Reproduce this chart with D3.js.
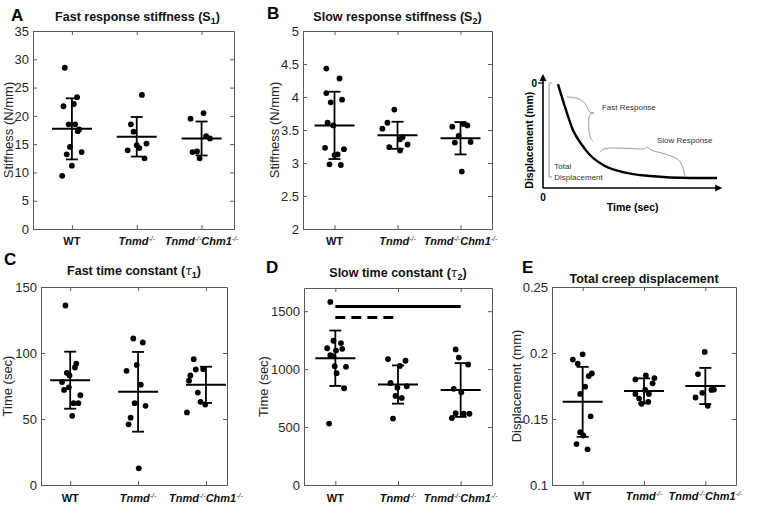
<!DOCTYPE html>
<html><head><meta charset="utf-8">
<script src="https://cdn.jsdelivr.net/npm/d3@7"></script>
<style>body{margin:0;background:#fff;} svg{display:block;}</style>
</head><body><svg id="c" width="759" height="507"></svg>
<script>
// ---------------- data ----------------
const categories = ["WT", "Tnmd", "TnmdChm1"];

// A: fast response stiffness S1 (N/mm)
const s1Values = [
  [28.5, 23.3, 21.7, 22.1, 18.5, 18.5, 17.6, 17.3, 14.5, 13.6, 13.2, 11.2, 9.4],
  [23.7, 18.5, 17.2, 15.1, 14.8, 14.3, 13.9, 12.5],
  [19.5, 20.5, 16.4, 16.0, 13.6, 13.7, 12.5]
];
const s1Jitter = [
  [-0.11, 0.08, -0.13, 0.03, -0.05, 0.05, 0.11, 0.09, -0.03, 0.15, -0.08, 0.00, -0.15],
  [0.08, -0.09, -0.05, 0.15, 0.00, 0.04, -0.14, 0.12],
  [-0.17, 0.03, 0.07, 0.13, -0.14, -0.07, -0.03]
];
const s1Mean = [17.7, 16.3, 16.0];
const s1SD = [5.4, 3.5, 3.0];
const s1Ticks = [0, 5, 10, 15, 20, 25, 30, 35];
const s1TickLabels = ["0", "5", "10", "15", "20", "25", "30", "35"];

// B: slow response stiffness S2 (N/mm)
const s2Values = [
  [4.43, 4.28, 4.06, 3.96, 3.92, 3.61, 3.57, 3.23, 3.21, 3.12, 3.13, 2.98, 2.97],
  [3.81, 3.61, 3.52, 3.39, 3.36, 3.28, 3.24, 3.19],
  [3.55, 3.59, 3.57, 3.41, 3.31, 3.32, 2.87]
];
const s2Jitter = [
  [-0.13, 0.08, -0.13, 0.12, -0.06, -0.11, -0.02, -0.15, 0.15, 0.00, 0.05, -0.08, 0.10],
  [-0.05, -0.16, -0.24, 0.08, 0.04, 0.16, -0.13, 0.04],
  [-0.13, 0.05, 0.11, -0.03, -0.09, 0.16, 0.02]
];
const s2Mean = [3.57, 3.42, 3.375];
const s2SD = [0.51, 0.205, 0.245];
const s2Ticks = [2, 2.5, 3, 3.5, 4, 4.5, 5];
const s2TickLabels = ["2", "2.5", "3", "3.5", "4", "4.5", "5"];

// C: fast time constant tau1 (sec)
const t1Values = [
  [136, 92, 89, 85, 83, 78, 74, 72, 68, 62, 62, 52.4],
  [111, 108, 91, 86.5, 76, 62, 60, 51, 46, 12.6],
  [95.3, 87.5, 87.7, 83, 79, 70, 63, 61, 55]
];
const t1Jitter = [
  [-0.07, 0.09, 0.07, -0.05, -0.01, -0.12, -0.02, -0.09, 0.15, 0.05, 0.12, 0.03],
  [-0.07, 0.07, -0.02, -0.17, 0.04, -0.05, 0.11, -0.11, -0.14, 0.01],
  [-0.18, -0.15, -0.04, -0.23, -0.25, -0.12, -0.08, -0.01, -0.28]
];
const t1Mean = [79.4, 70.6, 75.9];
const t1SD = [21.6, 30.2, 13.7];
const t1Ticks = [0, 50, 100, 150];
const t1TickLabels = ["0", "50", "100", "150"];

// D: slow time constant tau2 (sec)
const t2Values = [
  [1580, 1245, 1225, 1180, 1175, 1160, 1120, 1110, 1025, 1020, 965, 835, 530],
  [1087, 1072, 1027, 880, 840, 852, 769, 751, 573],
  [1170, 1100, 1040, 830, 800, 620, 615, 615, 578]
];
const t2Jitter = [
  [-0.08, -0.03, 0.09, -0.13, 0.11, 0.01, -0.08, -0.03, -0.01, 0.17, 0.02, 0.14, -0.10],
  [-0.16, 0.12, 0.03, -0.12, -0.01, 0.14, -0.04, 0.06, -0.08],
  [-0.08, -0.03, 0.12, -0.11, 0.01, -0.08, 0.05, 0.14, -0.14]
];
const t2Mean = [1094, 867, 820];
const t2SD = [239, 165, 232];
const t2Ticks = [0, 500, 1000, 1500];
const t2TickLabels = ["0", "500", "1000", "1500"];
const sigFrom = [1, 1];
const sigTo = [3, 2];
const sigLevel = [1540, 1445];
const sigDashed = [false, true];

// E: total creep displacement (mm)
const dispValues = [
  [0.199, 0.195, 0.192, 0.1845, 0.1825, 0.1745, 0.169, 0.152, 0.140, 0.1375, 0.131, 0.127],
  [0.183, 0.180, 0.181, 0.177, 0.172, 0.169, 0.1655, 0.169, 0.1615, 0.163],
  [0.2008, 0.184, 0.172, 0.1723, 0.1698, 0.1663, 0.160]
];
const dispJitter = [
  [0.00, -0.16, -0.08, 0.15, 0.10, 0.04, -0.04, 0.13, -0.04, 0.01, -0.10, 0.08],
  [0.03, -0.14, 0.17, 0.14, 0.02, -0.14, -0.08, 0.08, -0.04, 0.07],
  [-0.01, -0.12, 0.10, 0.14, -0.05, -0.16, 0.04]
];
const dispMean = [0.163, 0.1713, 0.175];
const dispSD = [0.0265, 0.0095, 0.0137];
const dispTicks = [0.1, 0.15, 0.2, 0.25];
const dispTickLabels = ["0.1", "0.15", "0.2", "0.25"];

// Schematic creep curve (time 0..1, displacement 0..1 of axis)
const schemTime = [0.086, 0.132, 0.172, 0.224, 0.270, 0.356, 0.460, 0.615, 0.845, 1.0];
const schemDisp = [0.010, 0.257, 0.448, 0.590, 0.686, 0.790, 0.848, 0.886, 0.905, 0.905];

// ---------------- drawing ----------------
const FONT = '"Liberation Sans", Arial, Helvetica, sans-serif';
const AX = "#5a5a5a";
const TXT = "#262626";
const svg = d3.select("#c").style("font-family", FONT);
svg.append("rect").attr("width", 759).attr("height", 507).attr("fill", "#fff");

function catLabel(g, cat, x, y) {
  const t = g.append("text").attr("x", x).attr("y", y).attr("text-anchor", "middle")
    .attr("font-size", 11).attr("font-weight", "bold").attr("fill", "#111");
  if (cat === "WT") { t.text("WT"); return; }
  t.append("tspan").attr("font-style", "italic").text("Tnmd");
  t.append("tspan").attr("font-size", 7).attr("font-style", "italic").attr("font-weight", "normal").attr("dy", -4).text("-/-");
  if (cat === "TnmdChm1") {
    t.append("tspan").attr("font-style", "italic").attr("dy", 4).text("Chm1");
    t.append("tspan").attr("font-size", 7).attr("font-style", "italic").attr("font-weight", "normal").attr("dy", -4).text("-/-");
  }
}

function panel(cfg) {
  const g = svg.append("g");
  const x = d3.scaleLinear().domain(cfg.xDomain).range([cfg.left, cfg.right]);
  const y = d3.scaleLinear().domain(cfg.yDomain).range([cfg.bottom, cfg.top]);
  const fmt = d => cfg.tickLabels[cfg.ticks.indexOf(d)];
  const cats = categories.map((c, i) => i + 1);

  const axL = g.append("g").attr("transform", `translate(${cfg.left},0)`)
    .call(d3.axisLeft(y).tickValues(cfg.ticks).tickFormat(fmt).tickSizeInner(-4).tickSizeOuter(0).tickPadding(4));
  const axR = g.append("g").attr("transform", `translate(${cfg.right},0)`)
    .call(d3.axisRight(y).tickValues(cfg.ticks).tickFormat("").tickSizeInner(-4).tickSizeOuter(0));
  const axB = g.append("g").attr("transform", `translate(0,${cfg.bottom})`)
    .call(d3.axisBottom(x).tickValues(cats).tickFormat("").tickSizeInner(-4).tickSizeOuter(0));
  const axT = g.append("g").attr("transform", `translate(0,${cfg.top})`)
    .call(d3.axisTop(x).tickValues(cats).tickFormat("").tickSizeInner(-4).tickSizeOuter(0));
  [axL, axR, axB, axT].forEach(a => {
    a.attr("font-family", FONT);
    a.selectAll(".domain").attr("stroke", AX).attr("stroke-width", 1);
    a.selectAll(".tick line").attr("stroke", AX).attr("stroke-width", 1);
  });
  axL.selectAll(".tick text").attr("font-size", 13).attr("fill", TXT);

  // data points
  cfg.values.forEach((vals, i) => {
    g.append("g").selectAll("circle").data(vals).join("circle")
      .attr("cx", (v, j) => x(i + 1 + cfg.jitter[i][j]))
      .attr("cy", v => y(v))
      .attr("r", 2.9).attr("fill", "#000");
  });
  // mean and SD bars
  cfg.mean.forEach((m, i) => {
    const cx = x(i + 1), sd = cfg.sd[i];
    const lg = g.append("g").attr("stroke", "#000").attr("stroke-width", 1.8).attr("fill", "none");
    lg.append("line").attr("x1", cx - 20).attr("x2", cx + 20).attr("y1", y(m)).attr("y2", y(m)).attr("stroke-width", 2);
    lg.append("line").attr("x1", cx).attr("x2", cx).attr("y1", y(m - sd)).attr("y2", y(m + sd));
    lg.append("line").attr("x1", cx - 6).attr("x2", cx + 6).attr("y1", y(m + sd)).attr("y2", y(m + sd));
    lg.append("line").attr("x1", cx - 6).attr("x2", cx + 6).attr("y1", y(m - sd)).attr("y2", y(m - sd));
  });
  if (cfg.sig) {
    cfg.sig.from.forEach((f, k) => {
      g.append("line").attr("x1", x(f)).attr("x2", x(cfg.sig.to[k]))
        .attr("y1", y(cfg.sig.level[k])).attr("y2", y(cfg.sig.level[k]))
        .attr("stroke", "#000").attr("stroke-width", 3)
        .attr("stroke-dasharray", cfg.sig.dashed[k] ? "10,6" : null);
    });
  }
  // category labels
  categories.forEach((c, i) => catLabel(g, c, x(i + 1), cfg.bottom + cfg.catDy));
  // y label
  g.append("text").attr("transform", `translate(${cfg.ylabX},${(cfg.top + cfg.bottom) / 2}) rotate(-90)`)
    .attr("text-anchor", "middle").attr("font-size", 13).attr("fill", TXT).text(cfg.ylabel);
  // panel letter
  g.append("text").attr("x", cfg.letterX).attr("y", cfg.letterY).attr("font-size", 17)
    .attr("font-weight", "bold").attr("fill", "#000").text(cfg.letter);
  // title
  const t = g.append("text").attr("x", (cfg.left + cfg.right) / 2 + (cfg.titleDx || 0)).attr("y", cfg.titleY)
    .attr("text-anchor", "middle").attr("font-size", 12.5).attr("font-weight", "bold").attr("fill", "#111");
  t.append("tspan").text(cfg.title[0]);
  if (cfg.title.length > 1) {
    if (cfg.tau) t.append("tspan").attr("font-style", "italic").attr("font-weight", "normal").attr("font-family", "DejaVu Serif, serif").attr("font-size", 12).text("\u03c4");
    else t.append("tspan").text("S");
    t.append("tspan").attr("font-size", 9).attr("dy", 3).text(cfg.title[1]);
    t.append("tspan").attr("dy", -3).text(")");
  }
}

panel({ letter: "A", letterX: 11, letterY: 21, title: ["Fast response stiffness (", "1"], titleY: 21, titleDx: 4,
  left: 33, right: 234, top: 31, bottom: 229, xDomain: [0.4, 3.5], yDomain: [0, 35],
  ticks: s1Ticks, tickLabels: s1TickLabels, values: s1Values, jitter: s1Jitter, mean: s1Mean, sd: s1SD,
  ylabel: "Stiffness (N/mm)", ylabX: 13, catDy: 16 });
panel({ letter: "B", letterX: 267, letterY: 19, title: ["Slow response stiffness (", "2"], titleY: 21,
  left: 303, right: 492, top: 31, bottom: 229, xDomain: [0.5, 3.5], yDomain: [2, 5],
  ticks: s2Ticks, tickLabels: s2TickLabels, values: s2Values, jitter: s2Jitter, mean: s2Mean, sd: s2SD,
  ylabel: "Stiffness (N/mm)", ylabX: 279, catDy: 16 });
panel({ letter: "C", letterX: 4, letterY: 265, title: ["Fast time constant (", "1"], tau: true, titleY: 275,
  left: 41, right: 227, top: 287, bottom: 485, xDomain: [0.57, 3.31], yDomain: [0, 150],
  ticks: t1Ticks, tickLabels: t1TickLabels, values: t1Values, jitter: t1Jitter, mean: t1Mean, sd: t1SD,
  ylabel: "Time (sec)", ylabX: 12, catDy: 17 });
panel({ letter: "D", letterX: 266, letterY: 273, title: ["Slow time constant (", "2"], tau: true, titleY: 277,
  left: 304, right: 492, top: 288, bottom: 485, xDomain: [0.5, 3.5], yDomain: [0, 1700],
  ticks: t2Ticks, tickLabels: t2TickLabels, values: t2Values, jitter: t2Jitter, mean: t2Mean, sd: t2SD,
  sig: { from: sigFrom, to: sigTo, level: sigLevel, dashed: sigDashed },
  ylabel: "Time (sec)", ylabX: 268, catDy: 17 });
panel({ letter: "E", letterX: 522, letterY: 273, title: ["Total creep displacement"], titleY: 283,
  left: 552, right: 736, top: 287, bottom: 485, xDomain: [0.5, 3.5], yDomain: [0.1, 0.25],
  ticks: dispTicks, tickLabels: dispTickLabels, values: dispValues, jitter: dispJitter, mean: dispMean, sd: dispSD,
  ylabel: "Displacement (mm)", ylabX: 521, catDy: 15 });

// ---------------- schematic ----------------
(function () {
  const g = svg.append("g");
  const tx = d3.scaleLinear().domain([0, 1]).range([543, 717]);
  const ty = d3.scaleLinear().domain([0, 1]).range([83, 188]);
  const ox = tx(0), oy = ty(1);
  // axes with arrows
  g.append("line").attr("x1", ox).attr("y1", oy).attr("x2", ox).attr("y2", ty(-0.03)).attr("stroke", "#000").attr("stroke-width", 1.6);
  g.append("line").attr("x1", ox).attr("y1", oy).attr("x2", tx(1.0)).attr("y2", oy).attr("stroke", "#000").attr("stroke-width", 1.6);
  g.append("path").attr("d", `M${ox - 3.5},${ty(-0.02)} L${ox},${ty(-0.085)} L${ox + 3.5},${ty(-0.02)} Z`).attr("fill", "#000");
  g.append("path").attr("d", `M${tx(0.99)},${oy - 3.5} L${tx(1.03)},${oy} L${tx(0.99)},${oy + 3.5} Z`).attr("fill", "#000");
  // zero tick
  g.append("line").attr("x1", ox - 5).attr("x2", ox).attr("y1", ty(0)).attr("y2", ty(0)).attr("stroke", "#000").attr("stroke-width", 1.2);
  g.append("text").attr("x", ox - 6).attr("y", ty(0) + 3.5).attr("text-anchor", "end").attr("font-size", 10).attr("font-weight", "bold").text("0");
  g.append("text").attr("x", ox).attr("y", oy + 13).attr("text-anchor", "middle").attr("font-size", 10).attr("font-weight", "bold").text("0");
  // axis titles
  g.append("text").attr("transform", `translate(${ox - 10},${ty(0.545)}) rotate(-90)`).attr("text-anchor", "middle")
    .attr("font-size", 10.5).attr("font-weight", "bold").text("Displacement (mm)");
  g.append("text").attr("x", (ox + tx(1.03)) / 2).attr("y", oy + 23).attr("text-anchor", "middle")
    .attr("font-size", 10.5).attr("font-weight", "bold").text("Time (sec)");
  // total displacement bracket
  const bx = tx(0.035);
  g.append("path").attr("d", `M${bx + 3},${ty(0)} H${bx} V${ty(0.895)} H${bx + 3}`).attr("fill", "none").attr("stroke", "#999").attr("stroke-width", 1);
  g.append("text").attr("x", tx(0.065)).attr("y", ty(0.82)).attr("font-size", 8).attr("fill", "#333").text("Total");
  g.append("text").attr("x", tx(0.065)).attr("y", ty(0.925)).attr("font-size", 8).attr("fill", "#333").text("Displacement");
  // creep curve
  const line = d3.line().x((d, i) => tx(schemTime[i])).y(d => ty(d)).curve(d3.curveMonotoneX);
  g.append("path").attr("d", line(schemDisp)).attr("fill", "none").attr("stroke", "#000").attr("stroke-width", 2.4);
  // braces
  const br = d3.line().x(d => tx(d[0])).y(d => ty(d[1])).curve(d3.curveBasis);
  const fastBrace = [[0.138, 0.133], [0.200, 0.140], [0.245, 0.190], [0.262, 0.262], [0.270, 0.286], [0.305, 0.286], [0.270, 0.286], [0.262, 0.330], [0.262, 0.450], [0.275, 0.540], [0.287, 0.552]];
  const slowBrace = [[0.328, 0.657], [0.345, 0.625], [0.400, 0.615], [0.560, 0.630], [0.590, 0.628], [0.603, 0.595], [0.603, 0.628], [0.640, 0.650], [0.760, 0.700], [0.800, 0.760], [0.816, 0.895]];
  g.append("path").attr("d", br(fastBrace)).attr("fill", "none").attr("stroke", "#999").attr("stroke-width", 1);
  g.append("path").attr("d", br(slowBrace)).attr("fill", "none").attr("stroke", "#999").attr("stroke-width", 1);
  g.append("text").attr("x", tx(0.339)).attr("y", ty(0.257)).attr("font-size", 8).attr("fill", "#333").text("Fast Response");
  g.append("text").attr("x", tx(0.655)).attr("y", ty(0.575)).attr("font-size", 8).attr("fill", "#333").text("Slow Response");
})();
</script>
</body></html>
